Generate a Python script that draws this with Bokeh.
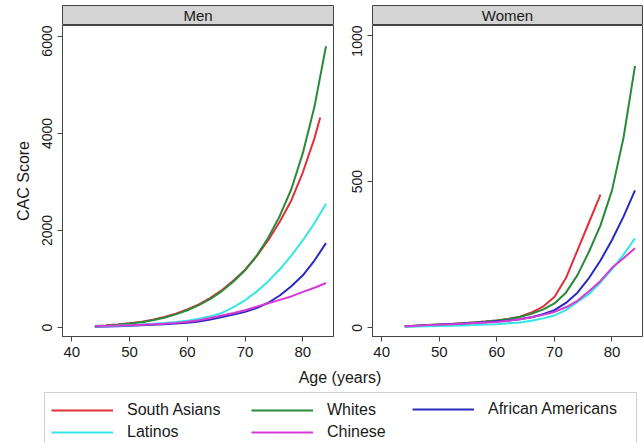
from bokeh.plotting import figure
from bokeh.layouts import column, row
from bokeh.models import Range1d, FixedTicker, Legend, LegendItem, BoxAnnotation, Label
from bokeh.embed import file_html
from bokeh.resources import INLINE

# ---------------- data ----------------
ages = [44, 46, 48, 50, 52, 54, 56, 58, 60, 62, 64, 66, 68, 70, 72, 74, 76, 78, 80, 82, 84]

# Men
men_south_asian_ages = [46, 48, 50, 52, 54, 56, 58, 60, 62, 64, 66, 68, 70, 72, 74, 76, 78, 80, 82, 83]
men_south_asians = [45, 60, 85, 115, 160, 215, 285, 370, 475, 610, 770, 970, 1190, 1470, 1800, 2180, 2620, 3200, 3900, 4330]
men_whites = [30, 40, 55, 80, 110, 150, 200, 270, 356, 460, 590, 750, 950, 1180, 1480, 1850, 2300, 2850, 3600, 4550, 5800]
men_african_americans = [15, 20, 27, 35, 45, 55, 65, 80, 96, 125, 165, 215, 265, 322, 400, 510, 660, 850, 1075, 1380, 1740]
men_latinos = [25, 30, 38, 48, 60, 75, 95, 115, 137, 180, 230, 300, 420, 560, 740, 950, 1200, 1480, 1800, 2150, 2550]
men_chinese = [30, 35, 42, 48, 56, 65, 76, 95, 116, 150, 195, 245, 300, 356, 430, 500, 570, 640, 733, 820, 918]

# Women
women_south_asian_ages = [44, 46, 48, 50, 52, 54, 56, 58, 60, 62, 64, 66, 68, 70, 72, 74, 76, 78]
women_south_asians = [5, 7, 9, 11, 13, 15, 18, 21, 25, 30, 38, 52, 72, 105, 170, 265, 360, 455]
women_whites = [5, 7, 9, 11, 13, 15, 18, 21, 25, 30, 37, 48, 62, 83, 120, 180, 260, 350, 470, 650, 896]
women_african_americans = [4, 6, 8, 10, 12, 14, 16, 19, 22, 25, 29, 36, 46, 60, 85, 120, 170, 230, 300, 380, 470]
women_latinos = [3, 4, 5, 6, 7, 8, 9, 11, 12, 15, 18, 24, 32, 42, 60, 88, 115, 155, 200, 250, 306]
women_chinese = [5, 7, 9, 10, 12, 14, 16, 18, 20, 24, 29, 36, 44, 54, 70, 92, 125, 160, 205, 238, 272]

x_ticks = [40, 50, 60, 70, 80]
men_y_ticks = [0, 2000, 4000, 6000]
women_y_ticks = [0, 500, 1000]

groups = ["South Asians", "Whites", "African Americans", "Latinos", "Chinese"]
colors = {
    "South Asians": "#e0303a",
    "Whites": "#2a8a3a",
    "African Americans": "#2a2ac0",
    "Latinos": "#33e6e6",
    "Chinese": "#d63ad6",
}

FONT = "Liberation Sans"
AX = "#444444"
TXT = "#1a1a1a"

men_series = [
    ("South Asians", men_south_asian_ages, men_south_asians),
    ("Whites", ages, men_whites),
    ("African Americans", ages, men_african_americans),
    ("Latinos", ages, men_latinos),
    ("Chinese", ages, men_chinese),
]
women_series = [
    ("South Asians", women_south_asian_ages, women_south_asians),
    ("Whites", ages, women_whites),
    ("African Americans", ages, women_african_americans),
    ("Latinos", ages, women_latinos),
    ("Chinese", ages, women_chinese),
]


def header(text, width, left, right):
    h = figure(width=width, height=25, x_range=Range1d(0, 1), y_range=Range1d(0, 1),
               x_axis_type=None, y_axis_type=None, output_backend="svg",
               toolbar_location=None, title=None,
               min_border_left=left, min_border_right=right,
               min_border_top=5, min_border_bottom=0)
    h.background_fill_color = "#d4d4d4"
    h.border_fill_color = "white"
    h.outline_line_color = AX
    h.outline_line_width = 1
    h.add_layout(Label(x=0.5, y=0.5, text=text, text_align="center",
                       text_baseline="middle", text_font=FONT,
                       text_font_size="15px", text_color=TXT))
    return h


def panel(series, width, left, right, y_range, y_ticks, ylabel=None):
    p = figure(width=width, height=341, x_range=Range1d(38.4, 85.3), y_range=y_range,
               output_backend="svg", toolbar_location=None, title=None,
               min_border_left=left, min_border_right=right,
               min_border_top=0, min_border_bottom=30)
    p.grid.visible = False
    p.outline_line_color = AX
    p.outline_line_width = 1
    for name, xs, ys in series:
        p.line(xs, ys, line_color=colors[name], line_width=2)
    for ax in (p.xaxis[0], p.yaxis[0]):
        ax.axis_line_color = AX
        ax.major_tick_line_color = AX
        ax.major_tick_out = 5
        ax.major_tick_in = 0
        ax.minor_tick_line_color = None
        ax.major_label_text_font = FONT
        ax.major_label_text_font_size = "15px"
        ax.major_label_text_color = TXT
        ax.major_label_standoff = 5
    p.yaxis.major_label_text_font_size = "14px"
    p.xaxis.ticker = FixedTicker(ticks=x_ticks)
    p.yaxis.ticker = FixedTicker(ticks=y_ticks)
    p.yaxis.major_label_orientation = "vertical"
    if ylabel:
        p.yaxis.axis_label = ylabel
        p.yaxis.axis_label_text_font = FONT
        p.yaxis.axis_label_text_font_size = "16px"
        p.yaxis.axis_label_text_font_style = "normal"
        p.yaxis.axis_label_text_color = TXT
        p.yaxis.axis_label_standoff = 8
    return p


LW, LL, LR = 340, 62, 7
RW, RL, RR = 303, 32, 1

men_header = header("Men", LW, LL, LR)
women_header = header("Women", RW, RL, RR)
men = panel(men_series, LW, LL, LR, Range1d(-186, 6227), men_y_ticks, "CAC Score")
women = panel(women_series, RW, RL, RR, Range1d(-30, 1034), women_y_ticks)

# bottom strip: x-axis title and legend
BW, BH = LW + RW, 77
b = figure(width=BW, height=BH, x_range=Range1d(0, BW), y_range=Range1d(0, BH),
           x_axis_type=None, y_axis_type=None, output_backend="svg",
           toolbar_location=None, title=None,
           min_border_left=0, min_border_right=0, min_border_top=0, min_border_bottom=0)
b.outline_line_color = None
b.add_layout(Label(x=339.5, y=66, text="Age (years)", text_align="center",
                   text_baseline="middle", text_font=FONT, text_font_size="16px",
                   text_color=TXT))

# legend proxies (a single empty point each, never visible)
nan = float("nan")
proxies = {g: b.line(x=[nan], y=[nan], line_color=colors[g], line_width=2) for g in groups}

legend_cols = [
    (["South Asians", "Latinos"], (51, 1)),
    (["Whites", "Chinese"], (251, 1)),
    (["African Americans"], (412, 24)),
]
for names, loc in legend_cols:
    lg = Legend(items=[LegendItem(label=n, renderers=[proxies[n]]) for n in names],
                location=loc, orientation="vertical")
    lg.border_line_color = None
    lg.background_fill_alpha = 0
    lg.padding = 6
    lg.spacing = 2
    lg.margin = 0
    lg.glyph_width = 62
    lg.glyph_height = 20
    lg.label_height = 20
    lg.label_standoff = 14
    lg.label_text_font = FONT
    lg.label_text_font_size = "16px"
    lg.label_text_color = TXT
    b.add_layout(lg)

b.add_layout(BoxAnnotation(left=44, right=636, top=51, bottom=-20,
                           fill_color=None, line_color="#666666", line_width=1))

layout = column(row(men_header, women_header), row(men, women), b)

open("out.html", "w").write(file_html(layout, INLINE))
